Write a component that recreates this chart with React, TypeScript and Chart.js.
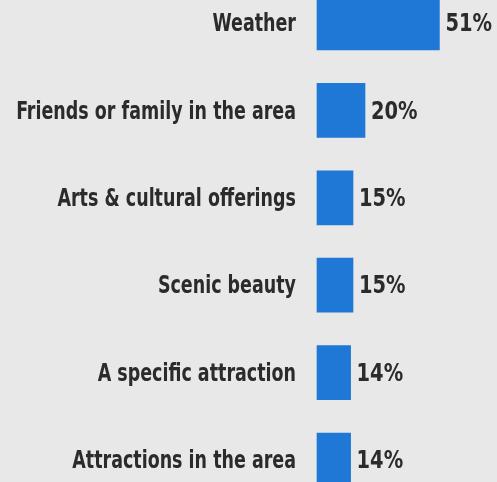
import React, { useEffect, useRef } from "react";
import { Chart, registerables } from "chart.js";

Chart.register(...registerables);

const categories = [
  "Weather",
  "Friends or family in the area",
  "Arts & cultural offerings",
  "Scenic beauty",
  "A specific attraction",
  "Attractions in the area",
];
const values = [51, 20, 15, 15, 14, 14];

const FONT = "'DejaVu Sans Condensed', 'DejaVu Sans', sans-serif";
const TEXT = "#2b2b2b";
const LABEL_SQUEEZE = 0.81;
const VALUE_SQUEEZE = 0.9;

const textPlugin = {
  id: "textPlugin",
  afterDatasetsDraw(chart: any) {
    const ctx = chart.ctx;
    const meta = chart.getDatasetMeta(0);
    const yScale = chart.scales.y;
    const left = chart.chartArea.left;
    ctx.save();
    ctx.font = `bold 24px ${FONT}`;
    ctx.fillStyle = TEXT;
    ctx.textBaseline = "middle";
    categories.forEach((label, i) => {
      const y = yScale.getPixelForTick(i) + 2;
      ctx.save();
      ctx.translate(left - 21, y);
      ctx.scale(LABEL_SQUEEZE, 1);
      ctx.textAlign = "right";
      ctx.fillText(label, 0, 0);
      ctx.restore();
    });
    meta.data.forEach((bar: any, i: number) => {
      ctx.save();
      ctx.translate(bar.x + 6, bar.y + 2);
      ctx.scale(VALUE_SQUEEZE, 1);
      ctx.textAlign = "left";
      ctx.fillText(`${values[i]}%`, 0, 0);
      ctx.restore();
    });
    ctx.restore();
  },
};

export default function App() {
  const ref = useRef<HTMLCanvasElement>(null);
  useEffect(() => {
    if (!ref.current) return;
    const chart = new Chart(ref.current, {
      type: "bar",
      data: {
        labels: categories,
        datasets: [
          {
            data: values,
            backgroundColor: "#1f77d6",
            borderWidth: 0,
            barThickness: 54,
            clip: false as any,
          },
        ],
      },
      options: {
        indexAxis: "y",
        animation: false,
        responsive: false,
        maintainAspectRatio: false,
        layout: { padding: { top: 23, bottom: 22, left: 317, right: 0 } },
        plugins: { legend: { display: false }, tooltip: { enabled: false } },
        scales: {
          x: {
            display: false,
            min: 0,
            max: 75,
          },
          y: {
            display: false,
            offset: false,
          },
        },
      },
      plugins: [textPlugin],
    });
    return () => chart.destroy();
  }, []);
  return (
    <div
      style={{
        position: "fixed",
        left: 0,
        top: 0,
        width: 497,
        height: 482,
        background: "#e8e8e8",
      }}
    >
      <canvas ref={ref} width={497} height={482} style={{ width: 497, height: 482 }} />
    </div>
  );
}
